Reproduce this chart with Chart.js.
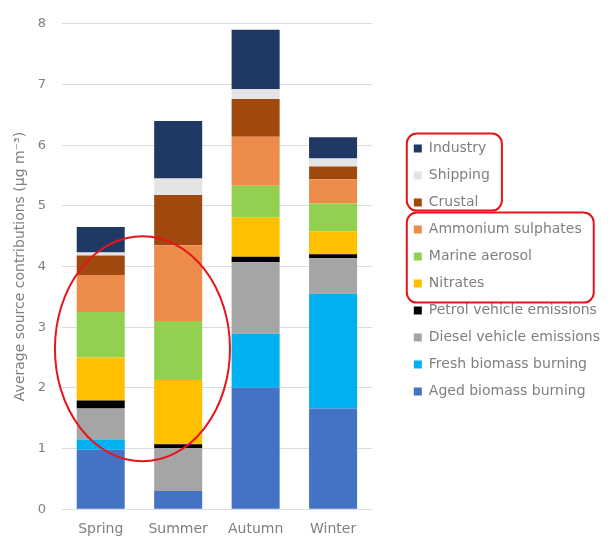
<!DOCTYPE html>
<html>
<head>
<meta charset="utf-8">
<script src="https://cdn.jsdelivr.net/npm/chart.js@4.4.0/dist/chart.umd.min.js"></script>
<style>
  html, body { margin: 0; padding: 0; background: #fff; }
  #chart { display: block; }
</style>
</head>
<body>
<canvas id="chart" width="616" height="538"></canvas>
<script>
const seasons = ['Spring', 'Summer', 'Autumn', 'Winter'];

// stacked from the bottom up
const agedBiomass   = [0.98, 0.30, 2.00, 1.66];
const freshBiomass  = [0.17, 0.00, 0.89, 1.89];
const dieselVehicle = [0.51, 0.71, 1.18, 0.59];
const petrolVehicle = [0.13, 0.06, 0.09, 0.06];
const nitrates      = [0.71, 1.06, 0.65, 0.38];
const marineAerosol = [0.75, 0.97, 0.52, 0.46];
const ammonium      = [0.61, 1.25, 0.81, 0.40];
const crustal       = [0.32, 0.83, 0.62, 0.21];
const shipping      = [0.05, 0.27, 0.16, 0.13];
const industry      = [0.42, 0.95, 0.98, 0.35];

const yTicksMax = 8;

const FONT = "'DejaVu Sans', sans-serif";
const TEXT = '#7f7f7f';

const series = [
  ['Aged biomass burning', agedBiomass, '#4472C4'],
  ['Fresh biomass burning', freshBiomass, '#00B0F0'],
  ['Diesel vehicle emissions', dieselVehicle, '#A5A5A5'],
  ['Petrol vehicle emissions', petrolVehicle, '#000000'],
  ['Nitrates', nitrates, '#FFC000'],
  ['Marine aerosol', marineAerosol, '#92D050'],
  ['Ammonium sulphates', ammonium, '#ED8B4A'],
  ['Crustal', crustal, '#A0490F'],
  ['Shipping', shipping, '#E4E4E4'],
  ['Industry', industry, '#1F3864'],
];

// red hand-drawn style highlights from the source figure
const highlights = {
  id: 'highlights',
  afterDraw(chart) {
    const ctx = chart.ctx;
    const x = chart.scales.x, y = chart.scales.y;
    ctx.save();
    ctx.strokeStyle = '#E8141B';
    ctx.lineWidth = 2;

    // ellipse around spring / summer middle part
    const c0 = x.getPixelForValue(0), c1 = x.getPixelForValue(1);
    const cx = (c0 + c1) / 2 + 3;
    const top = y.getPixelForValue(4.5), bot = y.getPixelForValue(0.79);
    ctx.beginPath();
    ctx.ellipse(cx, (top + bot) / 2, (c1 - c0) * 1.13, (bot - top) / 2, 0, 0, Math.PI * 2);
    ctx.stroke();

    // boxes around legend groups
    const hb = chart.legend.legendHitBoxes;
    const box = (from, to, padT, padB, padR) => {
      const items = hb.slice(from, to + 1);
      const l = Math.min(...items.map(h => h.left)) - 7;
      const r = Math.max(...items.map(h => h.left + h.width)) + padR;
      const t = items[0].top - padT;
      const b = items[items.length - 1].top + items[items.length - 1].height + padB;
      ctx.beginPath();
      ctx.roundRect(l, t, r - l, b - t, 10);
      ctx.stroke();
    };
    box(0, 2, 8, 1, 12);
    box(3, 5, 10, 12, 12);
    ctx.restore();
  }
};

new Chart(document.getElementById('chart'), {
  type: 'bar',
  data: {
    labels: seasons,
    datasets: series.map(([label, data, color]) => ({
      label,
      data,
      backgroundColor: color,
      borderWidth: 0,
      barPercentage: 0.62,
      categoryPercentage: 1,
    })),
  },
  options: {
    responsive: false,
    animation: false,
    layout: { padding: { top: 14, right: 6, left: 8, bottom: -12 } },
    plugins: {
      tooltip: { enabled: false },
      legend: {
        position: 'right',
        fullSize: false,
        reverse: true,
        maxWidth: 260,
        // empty title only nudges the centred items down a little
        title: { display: true, text: '', font: { size: 1 }, padding: { top: 6, bottom: 0 } },
        labels: {
          boxWidth: 8,
          boxHeight: 8,
          padding: 13,
          color: TEXT,
          font: { family: FONT, size: 14 },
        },
      },
    },
    scales: {
      x: {
        stacked: true,
        grid: { display: false, drawTicks: false },
        border: { display: false },
        ticks: { color: TEXT, font: { family: FONT, size: 14 }, padding: 12 },
      },
      y: {
        stacked: true,
        min: 0,
        max: yTicksMax,
        grid: { color: '#DCDCDC', drawTicks: false, lineWidth: 1 },
        border: { display: false },
        ticks: { stepSize: 1, color: TEXT, font: { family: FONT, size: 13 }, padding: 16 },
        title: {
          display: true,
          text: 'Average source contributions (µg m⁻³)',
          color: TEXT,
          font: { family: FONT, size: 14 },
          padding: { top: 4, bottom: 0 },
        },
        afterFit(scale) { scale.width = 54; },
      },
      // empty spacer between plot and legend
      gap: {
        position: 'right',
        display: true,
        grid: { display: false },
        border: { display: false },
        ticks: { display: false },
        afterFit(scale) { scale.width = 29; },
      },
    },
  },
  plugins: [highlights],
});
</script>
</body>
</html>
